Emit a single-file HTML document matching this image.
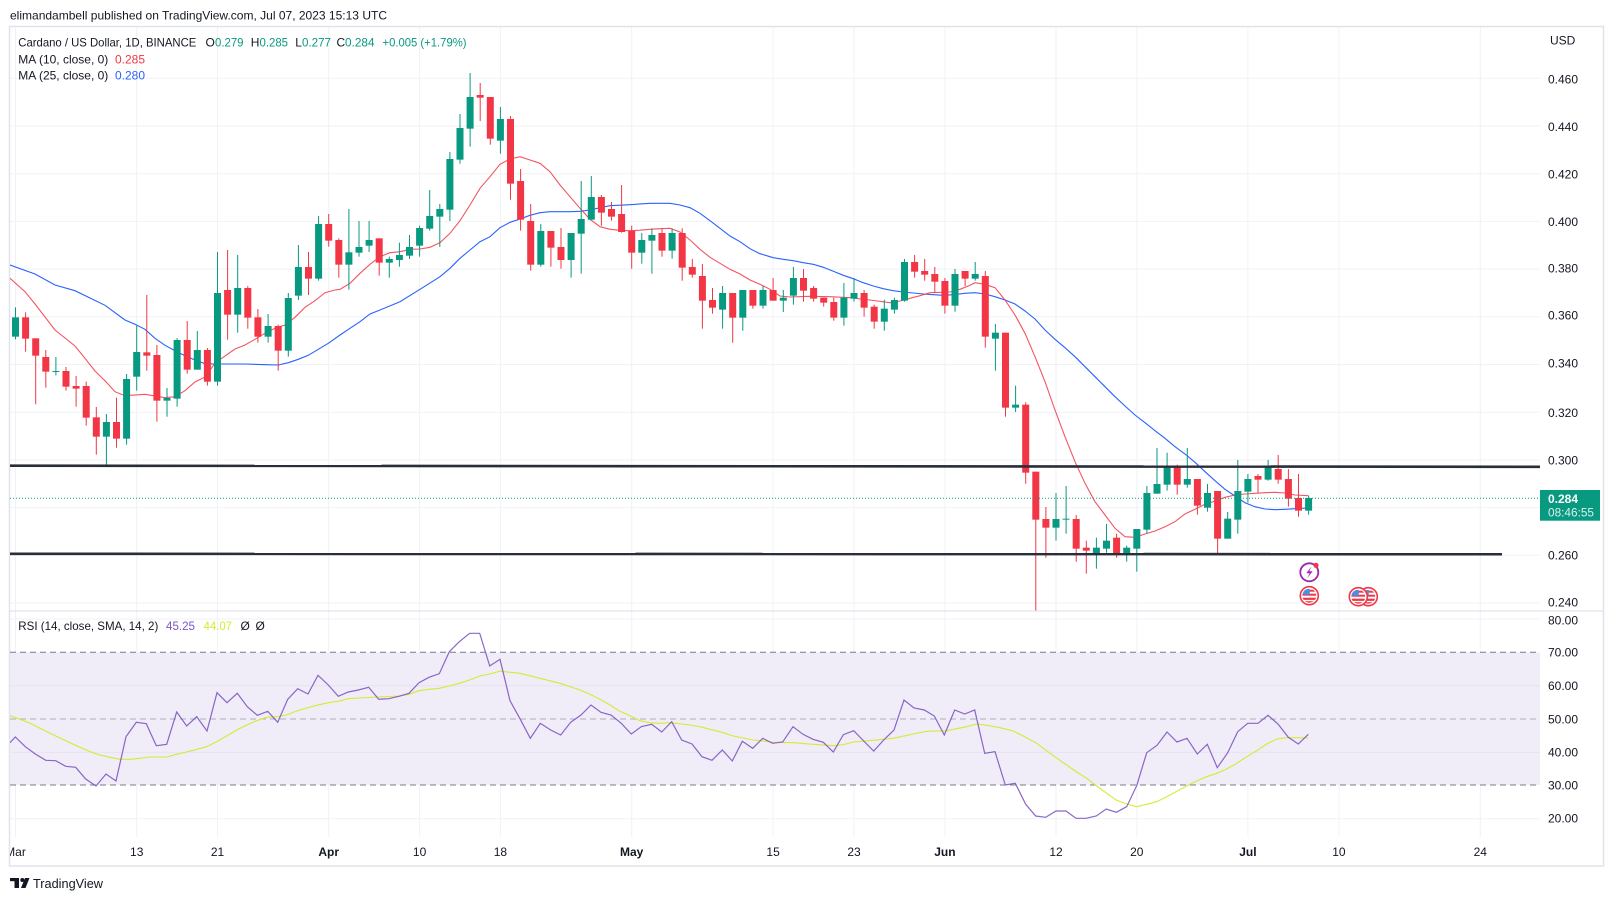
<!DOCTYPE html>
<html><head><meta charset="utf-8">
<style>
html,body{margin:0;padding:0;background:#fff;}
svg{display:block;font-family:"Liberation Sans",Arial,sans-serif;}
.g{fill:#089981}.r{fill:#f23645}
.ax{font-size:12px;fill:#131722}
</style></head>
<body>
<svg width="1614" height="901" viewBox="0 0 1614 901" xmlns="http://www.w3.org/2000/svg">
<defs>
<clipPath id="cp"><rect x="10" y="27" width="1530" height="583.5"/></clipPath>
<clipPath id="cr"><rect x="10" y="611.5" width="1530" height="226"/></clipPath>
<clipPath id="ct"><rect x="10" y="838" width="1530" height="27"/></clipPath>
<clipPath id="fc"><circle cx="0" cy="0" r="7"/></clipPath>
<g id="flag">
<circle r="9" fill="#fff" stroke="#f23645" stroke-width="1.6"/>
<g clip-path="url(#fc)">
<rect x="-7" y="-7" width="14" height="14" fill="#fff"/>
<rect x="-7" y="-6" width="14" height="2" fill="#f23645"/>
<rect x="-7" y="-2" width="14" height="2" fill="#f23645"/>
<rect x="-7" y="2" width="14" height="2.2" fill="#f23645"/>
<rect x="-7" y="5.5" width="14" height="2" fill="#f23645"/>
<rect x="-7" y="-7" width="7.5" height="6" fill="#4a8fe8"/>
</g>
</g>
</defs>

<!-- header -->
<text x="10" y="19.3" font-size="12" fill="#131722" textLength="377" lengthAdjust="spacingAndGlyphs">elimandambell published on TradingView.com, Jul 07, 2023 15:13 UTC</text>

<!-- frame -->
<rect x="9.5" y="26.5" width="1594" height="839.5" fill="none" stroke="#e0e3eb" stroke-width="1.5"/>

<!-- grid vertical -->
<g stroke="#f0f2f6" stroke-width="1">
<line x1="15.5" y1="27" x2="15.5" y2="837"/>
<line x1="136.7" y1="27" x2="136.7" y2="837"/>
<line x1="217.5" y1="27" x2="217.5" y2="837"/>
<line x1="328.7" y1="27" x2="328.7" y2="837"/>
<line x1="419.6" y1="27" x2="419.6" y2="837"/>
<line x1="500.4" y1="27" x2="500.4" y2="837"/>
<line x1="631.7" y1="27" x2="631.7" y2="837"/>
<line x1="773.1" y1="27" x2="773.1" y2="837"/>
<line x1="854" y1="27" x2="854" y2="837"/>
<line x1="944.9" y1="27" x2="944.9" y2="837"/>
<line x1="1056" y1="27" x2="1056" y2="837"/>
<line x1="1136.8" y1="27" x2="1136.8" y2="837"/>
<line x1="1247.9" y1="27" x2="1247.9" y2="837"/>
<line x1="1338.9" y1="27" x2="1338.9" y2="837"/>
<line x1="1480.3" y1="27" x2="1480.3" y2="837"/>
</g>
<!-- grid horizontal price -->
<g stroke="#f0f2f6" stroke-width="1">
<line x1="10" y1="78.3" x2="1540" y2="78.3"/>
<line x1="10" y1="126" x2="1540" y2="126"/>
<line x1="10" y1="173.7" x2="1540" y2="173.7"/>
<line x1="10" y1="221.4" x2="1540" y2="221.4"/>
<line x1="10" y1="269.1" x2="1540" y2="269.1"/>
<line x1="10" y1="316.8" x2="1540" y2="316.8"/>
<line x1="10" y1="364.5" x2="1540" y2="364.5"/>
<line x1="10" y1="412.2" x2="1540" y2="412.2"/>
<line x1="10" y1="459.9" x2="1540" y2="459.9"/>
<line x1="10" y1="507.6" x2="1540" y2="507.6"/>
<line x1="10" y1="555.3" x2="1540" y2="555.3"/>
<line x1="10" y1="603" x2="1540" y2="603"/>
</g>

<!-- pane separator -->
<line x1="9" y1="611" x2="1604" y2="611" stroke="#e0e3eb" stroke-width="1.3"/>

<!-- PRICE PANE -->
<g clip-path="url(#cp)">
<polyline fill="none" stroke="#2962ff" stroke-width="1.1" points="10,265 35,274 55,285 75,290.7 105,305.3 125,320 135,324.3 145,329.3 155,338.3 165,345.3 175,350.7 185,355.7 195,360 205,363.7 215,364 245,364 265,364.7 278.3,365 288.3,362.7 298.3,359.3 308.3,355.3 318.3,349.3 328.3,343.3 340,335 350,328.3 360,321.7 370,314 380,310 400,301.7 420,289.3 440,276.7 450,268.3 460,258.3 470,250 480,241.7 490,236.7 500,227.7 510,222.3 520,219 530,215.3 540,212.7 550,211.7 570,211.7 580,211.3 590,210 600,207.7 610,205.7 630,204.7 650,203.3 670,203.3 680,205 690,207.7 700,213.3 710,220.7 720,228.3 730,236 740,241.7 750,248.7 760,253.7 773.3,257.7 783.3,259.3 793.3,260.7 803.3,262.7 813.3,264.3 823.3,267.3 833.3,271.3 843.3,275.3 853.3,278.7 863.3,282.7 873.3,286 883.3,288.7 893.3,290.7 903.3,292 913.3,293 923.3,294 933.3,294.7 943.3,295.3 953.3,294.7 965,293.3 975,292.7 985,294 995,296.7 1005,300 1015,304 1025,311 1035,319 1045,330 1055,339.3 1065,347.7 1075,356.7 1085,366.7 1095,376.7 1105,386.7 1115,396.7 1125,406 1135,415 1145,422.7 1155,430.7 1165,438.3 1175,446.7 1185,454 1195,462.3 1205,471.7 1215,480.7 1225,489.3 1235,496 1245,502.7 1255,506.7 1265,509 1275,509.7 1285,509.3 1295,508.7 1308.3,508"/>
<polyline fill="none" stroke="#f23645" stroke-width="1.1" stroke-opacity="0.85" points="10,278.3 25,291.7 35,304 55,330 75,346 85,358.3 95,371 105,380.7 115,391.7 125,395.7 145,394.3 165,397.7 175,396.7 185,390.7 195,382 205,377 215,363.3 221.7,358.3 235,349 245,345 255,339.3 265,333.3 275,328.3 285,325 295,317.3 305,307.3 315,300.7 325,292.7 335,290 340,289.3 350,283.3 360,273.3 370,264.3 380,256.7 390,252.7 400,251.7 410,249.3 420,249 430,247.3 440,242.7 450,233.3 460,220.7 470,205 480,188.3 490,176.7 500,164.3 510,159 520,156.7 530,160 540,163.3 550,171.7 560,185 570,196.7 580,208.3 590,219.3 600,226.7 610,229.3 620,230.3 630,230.7 640,230.2 650,229.3 660,228.7 670,228.3 680,232 690,240 700,249.3 710,257.3 720,263.3 730,269.3 740,274 750,280 760,284.3 770,289.3 780,296 790,297 810,296.3 830,296.7 850,297.7 870,300 890,302.7 900,301 910,298.3 920,295.7 930,292.7 950,292 960,289.3 970,285.3 975,282.7 985,284.3 995,287.7 1005,300 1015,315 1025,333.3 1035,356.7 1045,381.7 1055,410 1065,436.7 1075,461.7 1085,483.3 1095,501.7 1105,515 1115,528.3 1125,536.7 1135,537.3 1145,534 1155,531 1165,526.7 1175,521.7 1185,514 1195,509.3 1205,504.3 1215,501 1225,497.3 1235,495 1245,494 1255,493.3 1265,492.7 1275,492.3 1285,493 1295,495 1308.3,495.7"/>

<g transform="translate(0,230) scale(1,0.333333)">
<rect class="g" x="15" y="232" width="1" height="96"/><rect class="g" x="12" y="262" width="7" height="58"/>
<rect class="r" x="25.1" y="247" width="1" height="118"/><rect class="r" x="22.1" y="262" width="7" height="64"/>
<rect class="r" x="35.2" y="325" width="1" height="198"/><rect class="r" x="32.2" y="325" width="7" height="52"/>
<rect class="r" x="45.3" y="360" width="1" height="113"/><rect class="r" x="42.3" y="381" width="7" height="44"/>
<rect class="g" x="55.4" y="381" width="1" height="55"/><rect class="g" x="52.4" y="423" width="7" height="3"/>
<rect class="r" x="65.5" y="411" width="1" height="71"/><rect class="r" x="62.5" y="423" width="7" height="47"/>
<rect class="r" x="75.6" y="438" width="1" height="92"/><rect class="r" x="72.6" y="468" width="7" height="8"/>
<rect class="r" x="85.7" y="455" width="1" height="132"/><rect class="r" x="82.7" y="468" width="7" height="95"/>
<rect class="r" x="95.8" y="531" width="1" height="143"/><rect class="r" x="92.8" y="562" width="7" height="58"/>
<rect class="g" x="105.9" y="552" width="1" height="158"/><rect class="g" x="102.9" y="576" width="7" height="44"/>
<rect class="r" x="116" y="503" width="1" height="150"/><rect class="r" x="113" y="576" width="7" height="50"/>
<rect class="g" x="126.1" y="432" width="1" height="212"/><rect class="g" x="123.1" y="447" width="7" height="179"/>
<rect class="g" x="136.2" y="287" width="1" height="195"/><rect class="g" x="133.2" y="366" width="7" height="74"/>
<rect class="r" x="146.3" y="195" width="1" height="227"/><rect class="r" x="143.3" y="367" width="7" height="10"/>
<rect class="r" x="156.4" y="345" width="1" height="230"/><rect class="r" x="153.4" y="375" width="7" height="137"/>
<rect class="g" x="166.5" y="474" width="1" height="86"/><rect class="g" x="163.5" y="504" width="7" height="8"/>
<rect class="g" x="176.6" y="324" width="1" height="206"/><rect class="g" x="173.6" y="330" width="7" height="176"/>
<rect class="r" x="186.7" y="273" width="1" height="158"/><rect class="r" x="183.7" y="330" width="7" height="89"/>
<rect class="g" x="196.8" y="303" width="1" height="116"/><rect class="g" x="193.8" y="360" width="7" height="59"/>
<rect class="r" x="206.9" y="354" width="1" height="113"/><rect class="r" x="203.9" y="360" width="7" height="95"/>
<rect class="g" x="217" y="66" width="1" height="401"/><rect class="g" x="214" y="189" width="7" height="266"/>
<rect class="r" x="227.1" y="60" width="1" height="269"/><rect class="r" x="224.1" y="180" width="7" height="74"/>
<rect class="g" x="237.2" y="75" width="1" height="233"/><rect class="g" x="234.2" y="174" width="7" height="80"/>
<rect class="r" x="247.3" y="168" width="1" height="128"/><rect class="r" x="244.3" y="174" width="7" height="89"/>
<rect class="r" x="257.4" y="237" width="1" height="101"/><rect class="r" x="254.4" y="262" width="7" height="58"/>
<rect class="g" x="267.6" y="252" width="1" height="86"/><rect class="g" x="264.6" y="288" width="7" height="32"/>
<rect class="r" x="277.7" y="284" width="1" height="138"/><rect class="r" x="274.7" y="288" width="7" height="74"/>
<rect class="g" x="287.8" y="189" width="1" height="191"/><rect class="g" x="284.8" y="204" width="7" height="158"/>
<rect class="g" x="297.9" y="45" width="1" height="165"/><rect class="g" x="294.9" y="111" width="7" height="86"/>
<rect class="r" x="308" y="66" width="1" height="129"/><rect class="r" x="305" y="111" width="7" height="35"/>
<rect class="g" x="318.1" y="-42" width="1" height="194"/><rect class="g" x="315.1" y="-18" width="7" height="164"/>
</g>

<g transform="translate(0,60) scale(1,0.333333)">
<rect class="r" x="328.2" y="462" width="1" height="98"/><rect class="r" x="325.2" y="492" width="7" height="50"/>
<rect class="r" x="338.3" y="535" width="1" height="118"/><rect class="r" x="335.3" y="540" width="7" height="74"/>
<rect class="g" x="348.4" y="447" width="1" height="242"/><rect class="g" x="345.4" y="577" width="7" height="37"/>
<rect class="g" x="358.5" y="483" width="1" height="107"/><rect class="g" x="355.5" y="561" width="7" height="17"/>
<rect class="g" x="368.6" y="483" width="1" height="93"/><rect class="g" x="365.6" y="540" width="7" height="17"/>
<rect class="r" x="378.7" y="535" width="1" height="112"/><rect class="r" x="375.7" y="535" width="7" height="73"/>
<rect class="g" x="388.8" y="590" width="1" height="63"/><rect class="g" x="385.8" y="597" width="7" height="11"/>
<rect class="g" x="398.9" y="548" width="1" height="72"/><rect class="g" x="395.9" y="585" width="7" height="15"/>
<rect class="g" x="409" y="525" width="1" height="72"/><rect class="g" x="406" y="561" width="7" height="26"/>
<rect class="g" x="419.1" y="497" width="1" height="93"/><rect class="g" x="416.1" y="504" width="7" height="53"/>
<rect class="g" x="429.2" y="390" width="1" height="122"/><rect class="g" x="426.2" y="468" width="7" height="38"/>
<rect class="g" x="439.3" y="432" width="1" height="129"/><rect class="g" x="436.3" y="447" width="7" height="23"/>
<rect class="g" x="449.4" y="276" width="1" height="207"/><rect class="g" x="446.4" y="297" width="7" height="152"/>
<rect class="g" x="459.5" y="162" width="1" height="149"/><rect class="g" x="456.5" y="204" width="7" height="95"/>
<rect class="g" x="469.6" y="39" width="1" height="221"/><rect class="g" x="466.6" y="111" width="7" height="95"/>
<rect class="r" x="479.7" y="69" width="1" height="114"/><rect class="r" x="476.7" y="105" width="7" height="8"/>
<rect class="r" x="489.8" y="111" width="1" height="143"/><rect class="r" x="486.8" y="111" width="7" height="125"/>
<rect class="g" x="499.9" y="141" width="1" height="140"/><rect class="g" x="496.9" y="177" width="7" height="65"/>
<rect class="r" x="510" y="168" width="1" height="251"/><rect class="r" x="507" y="177" width="7" height="194"/>
<rect class="r" x="520.1" y="327" width="1" height="185"/><rect class="r" x="517.1" y="363" width="7" height="116"/>
<rect class="r" x="530.2" y="432" width="1" height="200"/><rect class="r" x="527.2" y="483" width="7" height="131"/>
<rect class="g" x="540.3" y="492" width="1" height="128"/><rect class="g" x="537.3" y="513" width="7" height="101"/>
<rect class="r" x="550.4" y="513" width="1" height="107"/><rect class="r" x="547.4" y="513" width="7" height="50"/>
<rect class="r" x="560.5" y="504" width="1" height="122"/><rect class="r" x="557.5" y="561" width="7" height="39"/>
<rect class="g" x="570.6" y="519" width="1" height="134"/><rect class="g" x="567.6" y="519" width="7" height="81"/>
<rect class="g" x="580.7" y="363" width="1" height="278"/><rect class="g" x="577.7" y="477" width="7" height="44"/>
<rect class="g" x="590.8" y="348" width="1" height="131"/><rect class="g" x="587.8" y="411" width="7" height="68"/>
<rect class="r" x="600.9" y="405" width="1" height="92"/><rect class="r" x="597.9" y="411" width="7" height="47"/>
<rect class="r" x="611" y="426" width="1" height="56"/><rect class="r" x="608" y="447" width="7" height="23"/>
<rect class="r" x="621.1" y="375" width="1" height="143"/><rect class="r" x="618.1" y="462" width="7" height="54"/>
<rect class="r" x="631.2" y="497" width="1" height="129"/><rect class="r" x="628.2" y="513" width="7" height="65"/>
<rect class="g" x="641.3" y="519" width="1" height="92"/><rect class="g" x="638.3" y="540" width="7" height="38"/>
</g>

<g transform="translate(0,170) scale(1,0.333333)">
<rect class="g" x="651.4" y="175" width="1" height="136"/><rect class="g" x="648.4" y="195" width="7" height="17"/>
<rect class="r" x="661.5" y="175" width="1" height="85"/><rect class="r" x="658.5" y="189" width="7" height="53"/>
<rect class="g" x="671.6" y="175" width="1" height="91"/><rect class="g" x="668.6" y="189" width="7" height="53"/>
<rect class="r" x="681.7" y="175" width="1" height="157"/><rect class="r" x="678.7" y="189" width="7" height="104"/>
<rect class="r" x="691.8" y="267" width="1" height="56"/><rect class="r" x="688.8" y="291" width="7" height="23"/>
<rect class="r" x="701.9" y="282" width="1" height="194"/><rect class="r" x="698.9" y="318" width="7" height="74"/>
<rect class="r" x="712" y="354" width="1" height="77"/><rect class="r" x="709" y="390" width="7" height="23"/>
<rect class="g" x="722.1" y="348" width="1" height="128"/><rect class="g" x="719.1" y="369" width="7" height="50"/>
<rect class="r" x="732.2" y="369" width="1" height="149"/><rect class="r" x="729.2" y="369" width="7" height="74"/>
<rect class="g" x="742.3" y="360" width="1" height="122"/><rect class="g" x="739.3" y="360" width="7" height="83"/>
<rect class="r" x="752.4" y="360" width="1" height="56"/><rect class="r" x="749.4" y="360" width="7" height="47"/>
<rect class="g" x="762.5" y="348" width="1" height="68"/><rect class="g" x="759.5" y="360" width="7" height="47"/>
<rect class="r" x="772.6" y="324" width="1" height="68"/><rect class="r" x="769.6" y="360" width="7" height="32"/>
<rect class="g" x="782.8" y="360" width="1" height="66"/><rect class="g" x="779.8" y="383" width="7" height="9"/>
<rect class="g" x="792.9" y="291" width="1" height="113"/><rect class="g" x="789.9" y="324" width="7" height="53"/>
<rect class="r" x="803" y="297" width="1" height="98"/><rect class="r" x="800" y="324" width="7" height="38"/>
<rect class="r" x="813.1" y="348" width="1" height="47"/><rect class="r" x="810.1" y="354" width="7" height="32"/>
<rect class="r" x="823.2" y="383" width="1" height="27"/><rect class="r" x="820.2" y="383" width="7" height="15"/>
<rect class="r" x="833.3" y="383" width="1" height="69"/><rect class="r" x="830.3" y="396" width="7" height="47"/>
<rect class="g" x="843.4" y="339" width="1" height="128"/><rect class="g" x="840.4" y="383" width="7" height="60"/>
<rect class="g" x="853.5" y="324" width="1" height="71"/><rect class="g" x="850.5" y="369" width="7" height="17"/>
<rect class="r" x="863.6" y="360" width="1" height="80"/><rect class="r" x="860.6" y="369" width="7" height="44"/>
<rect class="r" x="873.7" y="404" width="1" height="72"/><rect class="r" x="870.7" y="410" width="7" height="45"/>
<rect class="g" x="883.8" y="389" width="1" height="93"/><rect class="g" x="880.8" y="416" width="7" height="39"/>
<rect class="g" x="893.9" y="383" width="1" height="48"/><rect class="g" x="890.9" y="390" width="7" height="29"/>
<rect class="g" x="904" y="267" width="1" height="128"/><rect class="g" x="901" y="276" width="7" height="116"/>
<rect class="r" x="914.1" y="255" width="1" height="68"/><rect class="r" x="911.1" y="276" width="7" height="29"/>
<rect class="r" x="924.2" y="267" width="1" height="65"/><rect class="r" x="921.2" y="303" width="7" height="11"/>
<rect class="r" x="934.3" y="291" width="1" height="77"/><rect class="r" x="931.3" y="312" width="7" height="23"/>
<rect class="r" x="944.4" y="324" width="1" height="107"/><rect class="r" x="941.4" y="333" width="7" height="74"/>
<rect class="g" x="954.5" y="297" width="1" height="128"/><rect class="g" x="951.5" y="312" width="7" height="95"/>
<rect class="r" x="964.6" y="303" width="1" height="45"/><rect class="r" x="961.6" y="303" width="7" height="23"/>
<rect class="g" x="974.7" y="276" width="1" height="56"/><rect class="g" x="971.7" y="312" width="7" height="14"/>
</g>

<g transform="translate(0,250) scale(1,0.333333)">
<rect class="r" x="984.8" y="63" width="1" height="230"/><rect class="r" x="981.8" y="78" width="7" height="182"/>
<rect class="g" x="994.9" y="222" width="1" height="140"/><rect class="g" x="991.9" y="248" width="7" height="18"/>
<rect class="r" x="1005" y="248" width="1" height="252"/><rect class="r" x="1002" y="248" width="7" height="225"/>
<rect class="g" x="1015.1" y="407" width="1" height="79"/><rect class="g" x="1012.1" y="464" width="7" height="9"/>
<rect class="r" x="1025.2" y="457" width="1" height="244"/><rect class="r" x="1022.2" y="464" width="7" height="204"/>
<rect class="r" x="1035.3" y="665" width="1" height="418"/><rect class="r" x="1032.3" y="665" width="7" height="144"/>
<rect class="r" x="1045.4" y="771" width="1" height="152"/><rect class="r" x="1042.4" y="807" width="7" height="26"/>
<rect class="g" x="1055.5" y="729" width="1" height="143"/><rect class="g" x="1052.5" y="807" width="7" height="26"/>
<rect class="g" x="1065.6" y="708" width="1" height="143"/><rect class="g" x="1062.6" y="806" width="7" height="3"/>
<rect class="r" x="1075.7" y="795" width="1" height="140"/><rect class="r" x="1072.7" y="807" width="7" height="89"/>
<rect class="r" x="1085.8" y="872" width="1" height="99"/><rect class="r" x="1082.8" y="893" width="7" height="9"/>
<rect class="g" x="1095.9" y="863" width="1" height="93"/><rect class="g" x="1092.9" y="893" width="7" height="18"/>
<rect class="g" x="1106" y="822" width="1" height="86"/><rect class="g" x="1103" y="872" width="7" height="24"/>
<rect class="r" x="1116.1" y="851" width="1" height="72"/><rect class="r" x="1113.1" y="863" width="7" height="48"/>
<rect class="g" x="1126.2" y="887" width="1" height="48"/><rect class="g" x="1123.2" y="893" width="7" height="18"/>
<rect class="g" x="1136.3" y="837" width="1" height="128"/><rect class="g" x="1133.3" y="837" width="7" height="59"/>
<rect class="g" x="1146.4" y="708" width="1" height="143"/><rect class="g" x="1143.4" y="729" width="7" height="110"/>
<rect class="g" x="1156.5" y="594" width="1" height="137"/><rect class="g" x="1153.5" y="702" width="7" height="29"/>
<rect class="g" x="1166.6" y="608" width="1" height="114"/><rect class="g" x="1163.6" y="651" width="7" height="53"/>
<rect class="r" x="1176.7" y="644" width="1" height="90"/><rect class="r" x="1173.7" y="651" width="7" height="53"/>
<rect class="g" x="1186.8" y="594" width="1" height="119"/><rect class="g" x="1183.8" y="687" width="7" height="17"/>
<rect class="r" x="1196.9" y="687" width="1" height="107"/><rect class="r" x="1193.9" y="687" width="7" height="80"/>
<rect class="g" x="1207" y="702" width="1" height="83"/><rect class="g" x="1204" y="729" width="7" height="44"/>
<rect class="r" x="1217.1" y="723" width="1" height="191"/><rect class="r" x="1214.1" y="723" width="7" height="143"/>
<rect class="g" x="1227.2" y="786" width="1" height="80"/><rect class="g" x="1224.2" y="806" width="7" height="60"/>
<rect class="g" x="1237.3" y="630" width="1" height="221"/><rect class="g" x="1234.3" y="723" width="7" height="86"/>
<rect class="g" x="1247.4" y="672" width="1" height="86"/><rect class="g" x="1244.4" y="687" width="7" height="38"/>
<rect class="r" x="1257.5" y="672" width="1" height="56"/><rect class="r" x="1254.5" y="678" width="7" height="11"/>
<rect class="g" x="1267.6" y="630" width="1" height="62"/><rect class="g" x="1264.6" y="651" width="7" height="38"/>
<rect class="r" x="1277.7" y="615" width="1" height="86"/><rect class="r" x="1274.7" y="657" width="7" height="32"/>
<rect class="r" x="1287.9" y="657" width="1" height="113"/><rect class="r" x="1284.9" y="687" width="7" height="59"/>
<rect class="r" x="1298" y="672" width="1" height="128"/><rect class="r" x="1295" y="744" width="7" height="38"/>
<rect class="g" x="1308.1" y="737" width="1" height="57"/><rect class="g" x="1305.1" y="744" width="7" height="38"/>
</g>

<line x1="10" y1="465.7" x2="1540" y2="466.8" stroke="#2a2e39" stroke-width="2.6"/>
<line x1="10" y1="553.8" x2="1502" y2="554.2" stroke="#2a2e39" stroke-width="2.6"/>

<line x1="10" y1="498.3" x2="1540" y2="498.3" stroke="#089981" stroke-width="1" stroke-dasharray="1 2"/>

<use href="#flag" transform="translate(1368.3,596.7)"/>
<use href="#flag" transform="translate(1358.3,596.7)"/>
<use href="#flag" transform="translate(1309.3,595.7)"/>
<circle cx="1309.3" cy="572.3" r="9" fill="#fff" stroke="#9c27b0" stroke-width="1.8"/>
<path d="M1311.5,566.5 L1306.3,573.2 L1309.6,573.2 L1307.2,578.3 L1312.6,571.2 L1309.3,571.2 Z" fill="#9c27b0"/>
<circle cx="1316" cy="565.3" r="2.6" fill="#f23645"/>
</g>

<!-- RSI PANE -->
<g clip-path="url(#cr)">
<rect x="10" y="652.3" width="1530" height="132.7" fill="#f0ecf8"/>
<line x1="10" y1="619" x2="1540" y2="619" stroke="#f0f2f6"/>
<line x1="10" y1="685.7" x2="1540" y2="685.7" stroke="#e6e2f0"/>
<line x1="10" y1="752.3" x2="1540" y2="752.3" stroke="#e6e2f0"/>
<line x1="10" y1="818.7" x2="1540" y2="818.7" stroke="#f0f2f6"/>
<line x1="10" y1="652.3" x2="1540" y2="652.3" stroke="#787b86" stroke-dasharray="6 4"/>
<line x1="10" y1="719" x2="1540" y2="719" stroke="#787b86" stroke-opacity="0.55" stroke-dasharray="6 4"/>
<line x1="10" y1="785" x2="1540" y2="785" stroke="#787b86" stroke-dasharray="6 4"/>
<polyline fill="none" stroke="#d7ea31" stroke-width="1.1" points="10,715.7 20,719.3 30,723.3 40,728.3 50,733.3 60,738 70,742.7 80,747.3 90,751.7 100,755 110,757.3 120,759.3 130,759.3 140,758.3 150,757 166.7,757 176.7,754.3 186.7,752 196.7,749.3 206.7,746.7 216.7,741.7 226.7,736 236.7,730 246.7,725 256.7,720.7 266.7,717.3 276.7,716.7 286.7,715 296.7,711 306.7,708 316.7,705.3 328.3,702.7 338.3,701.3 348.3,698.7 358.3,698 378.7,697 399,696 409,694.3 419,690.7 429,689.3 439.3,688.3 449.3,686 459.3,683.3 469.7,680 479.7,676 489.7,674 500,671.2 520,673.3 540,678.3 560,683.3 580,690 590,694.3 600,699.3 610,705 620,711.3 630,715.7 640,720.7 650,722.7 660,723.3 670,722.7 690,725 700,726.7 710,729.3 720,731.7 733.3,736 753.3,740 773.3,742.3 793.3,742.7 813.3,744.3 833.3,745.7 843.3,744.7 853.3,742 873.3,740.3 893.3,738.3 913.3,734 926.7,731.3 946.7,730.7 966.7,726.7 976.7,724 986.7,725.3 1000,727.7 1013.3,731 1023.3,736 1036.7,743.3 1050,753.3 1063.3,762.7 1076.7,772 1086.7,778.3 1096.7,786 1106.7,793.3 1116.7,800.3 1126.7,804 1136.7,806.7 1146.7,804.3 1156.7,801.7 1166.7,796.7 1176.7,791.3 1186.7,786 1196.7,781 1206.7,776.7 1216.7,773.3 1226.7,769 1236.7,763.3 1246.7,756.7 1256.7,750.7 1266.7,744 1276.7,739 1286.7,737.7 1296.7,737.7 1308.3,738"/>
<polyline fill="none" stroke="#7e57c2" stroke-width="1.2" stroke-opacity="0.9" points="10,742.7 15.3,737 25.3,746.7 35.3,754 45.7,760.3 55.7,760.7 65.7,766.3 75.7,767.3 85.7,779 96,786 106,774 116,781 126,736.7 136.3,722.3 146.3,723.7 156.3,745.7 166.7,744.3 176.7,712 186.7,726 196.7,716.7 207,731 217,692.7 227,702.7 237.3,693.3 247.3,706.7 257.3,715.3 267.7,711.3 277.7,722.3 287.7,699.3 297.7,688.7 308,694 318,675.3 328.3,685 338.3,696.3 348.3,692 358.3,690 368.7,687.3 378.7,699.3 388.7,698.7 399,696.3 409,693.3 419,682.7 429,677.3 439.3,673.7 449.3,651.7 459.3,641.7 469.7,633.3 479.7,633.3 489.7,666 500,659.3 510,700.7 520.3,719.3 530.3,738.3 540.3,723.3 550.7,730 560.7,735 570.7,722.3 581,715 591,705 601,712.3 611,715 621.3,723.3 631.3,734 641.3,726.7 651.7,724.3 661.7,732 671.7,721.7 681.7,740 692,744 702,756.7 712,760.3 722.3,750 732.3,761 742.3,741.3 752.7,748.3 762.7,738.3 772.7,743.3 782.7,742 793,726.7 803,734.3 813,739.3 823.3,742.3 833.3,752 843.3,734.7 853.7,730.7 863.7,741 873.7,751 883.7,740 894,730 904,700 914,708 924.3,710 934.3,716 944.3,735 954.7,710 964.7,714 974.7,710 984.7,753.3 995,751.7 1005.3,785 1015.3,783.3 1025.7,804.3 1035.7,816 1045.7,817.3 1056,811 1066,811 1076,818.3 1086,818.3 1096.3,816 1106.3,809 1116.3,812.3 1126.7,806.7 1136.7,785.7 1146.7,752.7 1157,745.3 1167,732 1177,742 1187,738.3 1197.3,754 1207.3,744.3 1217.3,767.7 1227.7,752.7 1237.7,731.7 1247.7,723.3 1258,723.3 1268,715.3 1278,724 1288.3,737.3 1298.3,744 1308.3,734.3"/>
</g>

<!-- legends -->
<g font-size="12" fill="#131722">
<text x="18.3" y="46.5" textLength="178" lengthAdjust="spacingAndGlyphs">Cardano / US Dollar, 1D, BINANCE</text>
<text x="205.5" y="46.5">O</text><text x="215" y="46.5" fill="#089981" textLength="28.5" lengthAdjust="spacingAndGlyphs">0.279</text>
<text x="250.8" y="46.5">H</text><text x="259.5" y="46.5" fill="#089981" textLength="28.5" lengthAdjust="spacingAndGlyphs">0.285</text>
<text x="295.3" y="46.5">L</text><text x="302" y="46.5" fill="#089981" textLength="29" lengthAdjust="spacingAndGlyphs">0.277</text>
<text x="336.5" y="46.5">C</text><text x="345" y="46.5" fill="#089981" textLength="29.5" lengthAdjust="spacingAndGlyphs">0.284</text>
<text x="382.5" y="46.5" fill="#089981" textLength="84" lengthAdjust="spacingAndGlyphs">+0.005 (+1.79%)</text>
<text x="18.3" y="63.3" textLength="90" lengthAdjust="spacingAndGlyphs">MA (10, close, 0)</text>
<text x="115" y="63.3" fill="#f23645" textLength="30" lengthAdjust="spacingAndGlyphs">0.285</text>
<text x="18.3" y="79.3" textLength="90" lengthAdjust="spacingAndGlyphs">MA (25, close, 0)</text>
<text x="115" y="79.3" fill="#2962ff" textLength="30" lengthAdjust="spacingAndGlyphs">0.280</text>
<text x="18.3" y="630" textLength="140" lengthAdjust="spacingAndGlyphs">RSI (14, close, SMA, 14, 2)</text>
<text x="166" y="630" fill="#7e57c2" textLength="29" lengthAdjust="spacingAndGlyphs">45.25</text>
<text x="203.5" y="630" fill="#d7ea31" textLength="28.5" lengthAdjust="spacingAndGlyphs">44.07</text>
<text x="240.5" y="630">Ø</text>
<text x="255.5" y="630">Ø</text>
</g>

<!-- price axis -->
<g class="ax">
<text x="1550" y="44.3">USD</text>
<text x="1548" y="83.5">0.460</text>
<text x="1548" y="131">0.440</text>
<text x="1548" y="178.3">0.420</text>
<text x="1548" y="226">0.400</text>
<text x="1548" y="272.6">0.380</text>
<text x="1548" y="319.6">0.360</text>
<text x="1548" y="367.5">0.340</text>
<text x="1548" y="417">0.320</text>
<text x="1548" y="464.3">0.300</text>
<text x="1548" y="559.6">0.260</text>
<text x="1548" y="606.6">0.240</text>
<text x="1548" y="624.3">80.00</text>
<text x="1548" y="656.6">70.00</text>
<text x="1548" y="690">60.00</text>
<text x="1548" y="723.3">50.00</text>
<text x="1548" y="756.6">40.00</text>
<text x="1548" y="789.3">30.00</text>
<text x="1548" y="822.6">20.00</text>
</g>
<rect x="1540" y="490" width="60" height="30.7" fill="#089981"/>
<text x="1548" y="503" font-size="12" font-weight="bold" fill="#fff">0.284</text>
<text x="1548" y="516.3" font-size="12" fill="#fff" fill-opacity="0.85" textLength="46" lengthAdjust="spacingAndGlyphs">08:46:55</text>

<!-- time axis -->
<g class="ax" text-anchor="middle" clip-path="url(#ct)">
<text x="15.5" y="856">Mar</text>
<text x="136.7" y="856">13</text>
<text x="217.5" y="856">21</text>
<text x="328.7" y="856" font-weight="bold">Apr</text>
<text x="419.6" y="856">10</text>
<text x="500.4" y="856">18</text>
<text x="631.7" y="856" font-weight="bold">May</text>
<text x="773.1" y="856">15</text>
<text x="854" y="856">23</text>
<text x="944.9" y="856" font-weight="bold">Jun</text>
<text x="1056" y="856">12</text>
<text x="1136.8" y="856">20</text>
<text x="1247.9" y="856" font-weight="bold">Jul</text>
<text x="1338.9" y="856">10</text>
<text x="1480.3" y="856">24</text>
</g>

<!-- TradingView logo -->
<g fill="#131722">
<rect x="10" y="878" width="9" height="3.2"/>
<rect x="14.5" y="878" width="4.5" height="10"/>
<circle cx="22.3" cy="880" r="2"/>
<polygon points="25,878 29.5,878 25.5,888 21,888"/>
</g>
<text x="33" y="888" font-size="13" fill="#131722" textLength="70" lengthAdjust="spacingAndGlyphs">TradingView</text>
</svg>
</body></html>
